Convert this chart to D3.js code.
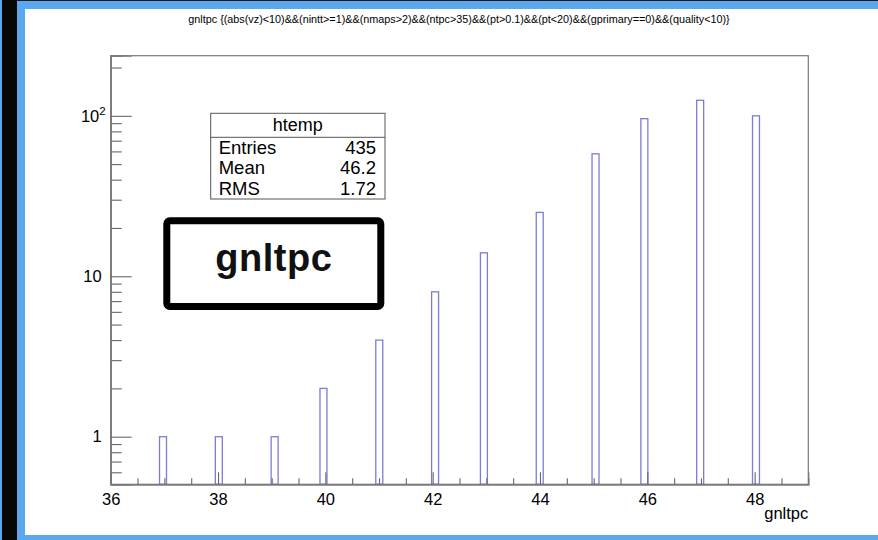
<!DOCTYPE html>
<html>
<head>
<meta charset="utf-8">
<script src="https://cdn.jsdelivr.net/npm/d3@7"></script>
<style>
  html, body { margin: 0; padding: 0; background: #fff; }
  svg { display: block; }
  text { font-family: "Liberation Sans", Arial, Helvetica, sans-serif; }
</style>
</head>
<body>
<svg id="chart" width="878" height="540"></svg>
<script>
// Histogram "htemp" of gnltpc: 100 bins over [36, 49]
const nBins = 100;
const xMin = 36;
const xMax = 49;
const values = [37, 38, 39, 40, 41, 42, 43, 44, 45, 46, 47, 48];
const counts = [1, 1, 1, 2, 4, 8, 14, 25, 58, 96, 125, 100];

const xMajorTicks = [36, 38, 40, 42, 44, 46, 48];
const xMinorTicks = [36.5, 37, 37.5, 38.5, 39, 39.5, 40.5, 41, 41.5, 42.5, 43, 43.5,
                     44.5, 45, 45.5, 46.5, 47, 47.5, 48.5];
const yMajorTicks = [1, 10, 100];
const yMinorTicks = [0.6, 0.7, 0.8, 0.9, 2, 3, 4, 5, 6, 7, 8, 9,
                     20, 30, 40, 50, 60, 70, 80, 90, 200];
const yDomain = [0.505, 237];

const titleText = "gnltpc {(abs(vz)<10)&&(nintt>=1)&&(nmaps>2)&&(ntpc>35)&&(pt>0.1)&&(pt<20)&&(gprimary==0)&&(quality<10)}";
const statsName = "htemp";
const statsLabels = ["Entries", "Mean", "RMS"];
const statsValues = ["435", "46.2", "1.72"];
const axisTitle = "gnltpc";
const boxLabel = "gnltpc";

const svg = d3.select("#chart");

// page background: dark strip and light-blue border
svg.append("rect").attr("x", 0).attr("y", 0).attr("width", 878).attr("height", 540).attr("fill", "#5aa9ef");
svg.append("rect").attr("x", 2).attr("y", 0).attr("width", 15).attr("height", 540).attr("fill", "#070707");
svg.append("rect").attr("x", 17).attr("y", 0).attr("width", 861).attr("height", 1).attr("fill", "#1a1a1a");
svg.append("rect").attr("x", 25).attr("y", 9).attr("width", 853).attr("height", 526).attr("fill", "#ffffff");

const frame = { left: 110.7, top: 55.7, right: 808.3, bottom: 484.3 };

const x = d3.scaleLinear().domain([xMin, xMax]).range([frame.left, frame.right]);
const y = d3.scaleLog().domain(yDomain).range([frame.bottom, frame.top]);

// title
svg.append("text")
  .attr("x", 459).attr("y", 23)
  .attr("text-anchor", "middle")
  .attr("font-size", 10.8)
  .attr("fill", "#000")
  .text(titleText);

// histogram bins
const binWidth = (xMax - xMin) / nBins;
const bins = values.map((v, i) => {
  const idx = Math.floor((v - xMin) / binWidth);
  return { x0: xMin + idx * binWidth, x1: xMin + (idx + 1) * binWidth, n: counts[i] };
});

svg.append("g")
  .selectAll("rect")
  .data(bins)
  .join("rect")
  .attr("x", d => x(d.x0))
  .attr("width", d => x(d.x1) - x(d.x0))
  .attr("y", d => y(d.n))
  .attr("height", d => y(yDomain[0]) - y(d.n))
  .attr("fill", "none")
  .attr("stroke", "#5050c8")
  .attr("stroke-opacity", 0.75)
  .attr("stroke-width", 1.3);

// frame
svg.append("rect")
  .attr("x", frame.left).attr("y", frame.top)
  .attr("width", frame.right - frame.left).attr("height", frame.bottom - frame.top)
  .attr("fill", "none").attr("stroke", "#7a7a7a").attr("stroke-width", 1.2);

// x axis
const xAxisMajor = d3.axisBottom(x).tickValues(xMajorTicks).tickSize(-12).tickPadding(9)
  .tickFormat(d3.format("d"));
const xAxisMinor = d3.axisBottom(x).tickValues(xMinorTicks).tickSize(-6).tickFormat("");

const gxMinor = svg.append("g").attr("transform", `translate(0,${frame.bottom})`).call(xAxisMinor);
const gxMajor = svg.append("g").attr("transform", `translate(0,${frame.bottom})`).call(xAxisMajor);
[gxMinor, gxMajor].forEach(g => {
  g.select(".domain").attr("stroke", "#7a7a7a").attr("stroke-width", 1.2);
  g.selectAll(".tick line").attr("stroke", "#666").attr("stroke-width", 1.1);
});
gxMajor.selectAll(".tick text")
  .attr("font-size", 16.5).attr("fill", "#000")
  .attr("font-family", "Liberation Sans, Arial, sans-serif");

// y axis
const yAxisMajor = d3.axisLeft(y).tickValues(yMajorTicks).tickSize(-21).tickPadding(9)
  .tickFormat(d => d === 100 ? "" : String(d));
const yAxisMinor = d3.axisLeft(y).tickValues(yMinorTicks).tickSize(-11).tickFormat("");

const gyMinor = svg.append("g").attr("transform", `translate(${frame.left},0)`).call(yAxisMinor);
const gyMajor = svg.append("g").attr("transform", `translate(${frame.left},0)`).call(yAxisMajor);
[gyMinor, gyMajor].forEach(g => {
  g.select(".domain").attr("stroke", "#7a7a7a").attr("stroke-width", 1.2);
  g.selectAll(".tick line").attr("stroke", "#666").attr("stroke-width", 1.1);
});
gyMajor.selectAll(".tick text")
  .attr("font-size", 16.5).attr("fill", "#000")
  .attr("font-family", "Liberation Sans, Arial, sans-serif")
  .each(function (d) {
    if (d === 100) {
      const t = d3.select(this);
      t.append("tspan").text("10");
      t.append("tspan").attr("font-size", 11.5).attr("dy", "-0.55em").text("2");
      t.attr("dx", "4");
    }
  });

// axis title
svg.append("text")
  .attr("x", frame.right).attr("y", 519)
  .attr("text-anchor", "end")
  .attr("font-size", 16.5)
  .attr("fill", "#000")
  .text(axisTitle);

// statistics box
const sb = { x: 210.7, y: 113.3, w: 174.3, h: 85.7, head: 24 };
const statsG = svg.append("g");
statsG.append("rect")
  .attr("x", sb.x).attr("y", sb.y).attr("width", sb.w).attr("height", sb.h)
  .attr("fill", "#fff").attr("stroke", "#555").attr("stroke-width", 1);
statsG.append("line")
  .attr("x1", sb.x).attr("x2", sb.x + sb.w)
  .attr("y1", sb.y + sb.head).attr("y2", sb.y + sb.head)
  .attr("stroke", "#555").attr("stroke-width", 1);
statsG.append("text")
  .attr("x", sb.x + sb.w / 2).attr("y", sb.y + 18)
  .attr("text-anchor", "middle").attr("font-size", 18).attr("fill", "#000")
  .text(statsName);
const rowH = (sb.h - sb.head) / statsLabels.length;
statsLabels.forEach((lab, i) => {
  const by = sb.y + sb.head + rowH * (i + 1) - 4;
  statsG.append("text").attr("x", sb.x + 8).attr("y", by)
    .attr("font-size", 18.5).attr("fill", "#000").text(lab);
  statsG.append("text").attr("x", sb.x + sb.w - 9).attr("y", by)
    .attr("text-anchor", "end").attr("font-size", 18.5).attr("fill", "#000").text(statsValues[i]);
});

// variable label box
const lb = { x: 163.3, y: 217.3, w: 221, h: 92.7, t: 7 };
svg.append("rect")
  .attr("x", lb.x + lb.t / 2).attr("y", lb.y + lb.t / 2)
  .attr("width", lb.w - lb.t).attr("height", lb.h - lb.t)
  .attr("rx", 3).attr("ry", 3)
  .attr("fill", "#fff").attr("stroke", "#000").attr("stroke-width", lb.t);
svg.append("text")
  .attr("x", lb.x + lb.w / 2).attr("y", 271)
  .attr("text-anchor", "middle")
  .attr("font-family", "'Open Sans', sans-serif")
  .attr("font-weight", 700)
  .attr("font-size", 38)
  .attr("letter-spacing", 0.5)
  .attr("fill", "#111")
  .text(boxLabel);
</script>
</body>
</html>
